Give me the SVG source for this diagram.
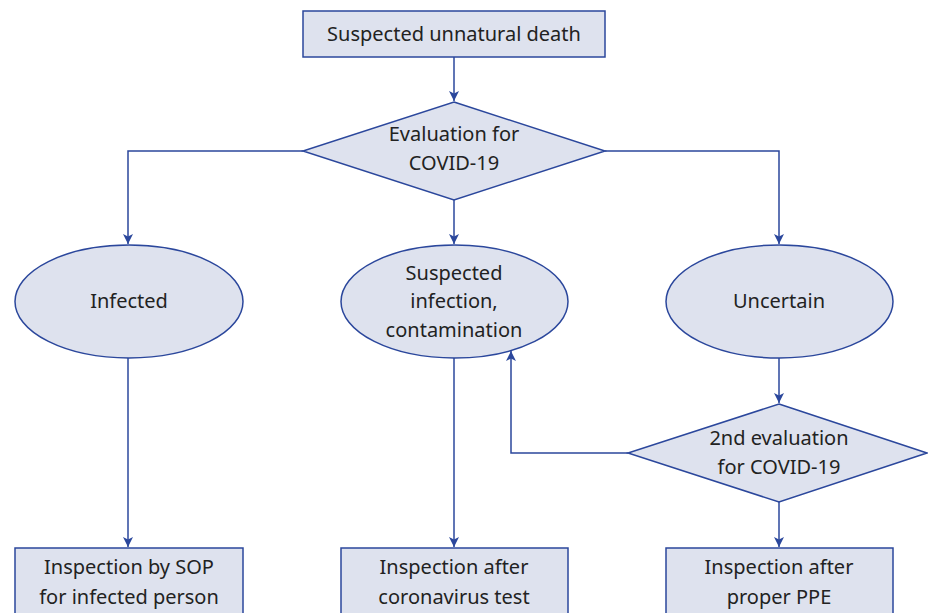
<svg xmlns="http://www.w3.org/2000/svg" width="928" height="613" viewBox="0 0 928 613">
<defs>
<marker id="ah" viewBox="0 0 10 10" refX="10" refY="5" markerWidth="10" markerHeight="10" markerUnits="userSpaceOnUse" orient="auto">
<path d="M0,0 L10,5 L0,10 L2.5,5 Z" fill="#2b479c"/>
</marker>
<style>
.s{fill:#dee2ee;stroke:#2b479c;stroke-width:1.5}
.c{fill:none;stroke:#2b479c;stroke-width:1.5}
text{font-family:"Noto Sans","Open Sans",sans-serif;font-size:20px;fill:#222;text-anchor:middle}
</style>
</defs>
<rect width="928" height="613" fill="#fff"/>
<g id="connectors">
<path class="c" d="M454,57 V101" marker-end="url(#ah)"/>
<path class="c" d="M303,151 H128 V244" marker-end="url(#ah)"/>
<path class="c" d="M605,151 H779 V244" marker-end="url(#ah)"/>
<path class="c" d="M454,200 V244" marker-end="url(#ah)"/>
<path class="c" d="M128,358 V547" marker-end="url(#ah)"/>
<path class="c" d="M454,358 V547" marker-end="url(#ah)"/>
<path class="c" d="M779,358 V403" marker-end="url(#ah)"/>
<path class="c" d="M628,453 H511 V351" marker-end="url(#ah)"/>
<path class="c" d="M779,502 V547" marker-end="url(#ah)"/>
</g>
<g id="n1"><rect class="s" x="303" y="11" width="302" height="46"/><text x="454" y="41">Suspected unnatural death</text></g>
<g id="n2"><polygon class="s" points="454,102 605,151 454,200 303,151"/><text x="454" y="141">Evaluation for</text><text x="454" y="170">COVID-19</text></g>
<g id="n3"><ellipse class="s" cx="129" cy="301.5" rx="114" ry="56.5"/><text x="129" y="308">Infected</text></g>
<g id="n4"><ellipse class="s" cx="454.5" cy="301.5" rx="113.5" ry="56.5"/><text x="454" y="280">Suspected</text><text x="454" y="308">infection,</text><text x="454" y="337">contamination</text></g>
<g id="n5"><ellipse class="s" cx="779.5" cy="301.5" rx="113.5" ry="56.5"/><text x="779" y="308">Uncertain</text></g>
<g id="n6"><polygon class="s" points="779,404 927,453 779,502 628,453"/><text x="779" y="445">2nd evaluation</text><text x="779" y="474">for COVID-19</text></g>
<g id="n7"><rect class="s" x="15" y="548" width="228" height="70"/><text x="129" y="574">Inspection by SOP</text><text x="129" y="604">for infected person</text></g>
<g id="n8"><rect class="s" x="341" y="548" width="227" height="70"/><text x="454" y="574">Inspection after</text><text x="454" y="604">coronavirus test</text></g>
<g id="n9"><rect class="s" x="666" y="548" width="227" height="70"/><text x="779" y="574">Inspection after</text><text x="779" y="604">proper PPE</text></g>
</svg>
